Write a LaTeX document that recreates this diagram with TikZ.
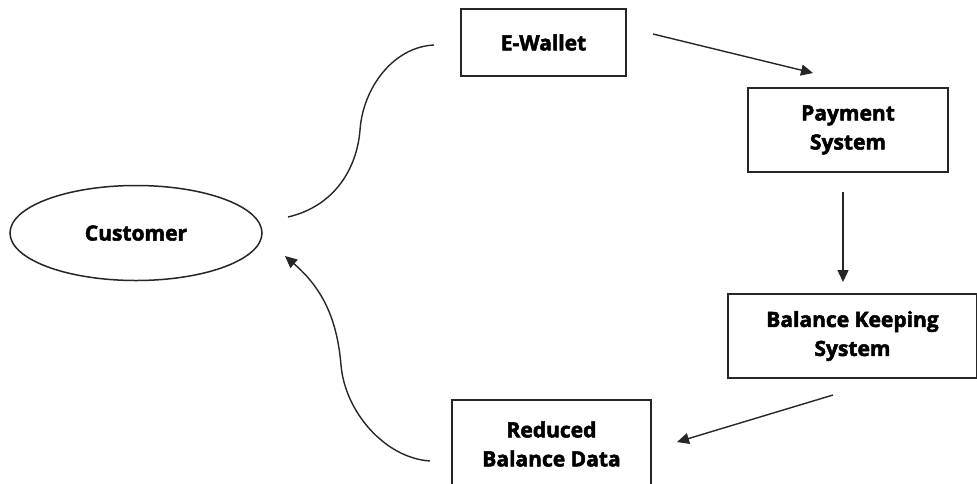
\documentclass[tikz,border=0pt]{standalone}
\usepackage{fontspec}
\setmainfont{Open Sans}[BoldFeatures={FakeBold=2.4}]
\usetikzlibrary{shapes.geometric,arrows.meta}
\begin{document}
\begin{tikzpicture}[x=1pt,y=-1pt,
  lbl/.style={font=\fontsize{21}{29}\selectfont\bfseries, align=center, text=black},
  boxnode/.style={lbl, draw=black!85, line width=1.7pt, rectangle, inner sep=0pt},
  ellnode/.style={lbl, draw=black!85, line width=1.5pt, ellipse, inner sep=0pt},
  conn/.style={draw=black!85, line width=1.4pt},
  arr/.style={conn, -{Triangle[length=12pt,width=11pt]}}]
\useasboundingbox (0,0) rectangle (977,483);
\clip (0,0) rectangle (977,483);
\fill[white] (0,0) rectangle (977,483);

\node[ellnode, minimum width=252pt, minimum height=95pt] (cust) at (136,233) {Customer};
\node[boxnode, minimum width=165pt, minimum height=67pt] (ewal) at (543.5,42.5) {E-Wallet};
\node[boxnode, minimum width=200pt, minimum height=84pt] (pay) at (848,130) {Payment\\System};
\node[boxnode, minimum width=249pt, minimum height=84pt] (bks) at (852.5,336) {Balance Keeping\\System};
\node[boxnode, minimum width=199pt, minimum height=88pt] (red) at (551.5,444) {Reduced\\Balance Data};

\coordinate (c1s) at (288,217);
\coordinate (c1m) at (360,130);
\coordinate (c1e) at (434,45);
\draw[conn] (c1s) .. controls (335,206) and (357,168) .. (c1m)
             .. controls (363,88) and (393,47) .. (c1e);

\coordinate (c2s) at (430,461);
\coordinate (c2m) at (341,365);
\coordinate (c2e) at (285,256);
\draw[conn] (c2s) .. controls (385,458) and (345,412) .. (c2m);
\draw[arr] (c2m) .. controls (337,318) and (322,288) .. (c2e);

\coordinate (a1s) at (653,34);
\coordinate (a1e) at (813,73);
\draw[arr] (a1s) -- (a1e);

\coordinate (a2s) at (843,192);
\coordinate (a2e) at (843,282);
\draw[arr] (a2s) -- (a2e);

\coordinate (a3s) at (833,395);
\coordinate (a3e) at (677,442);
\draw[arr] (a3s) -- (a3e);
\end{tikzpicture}
\end{document}
